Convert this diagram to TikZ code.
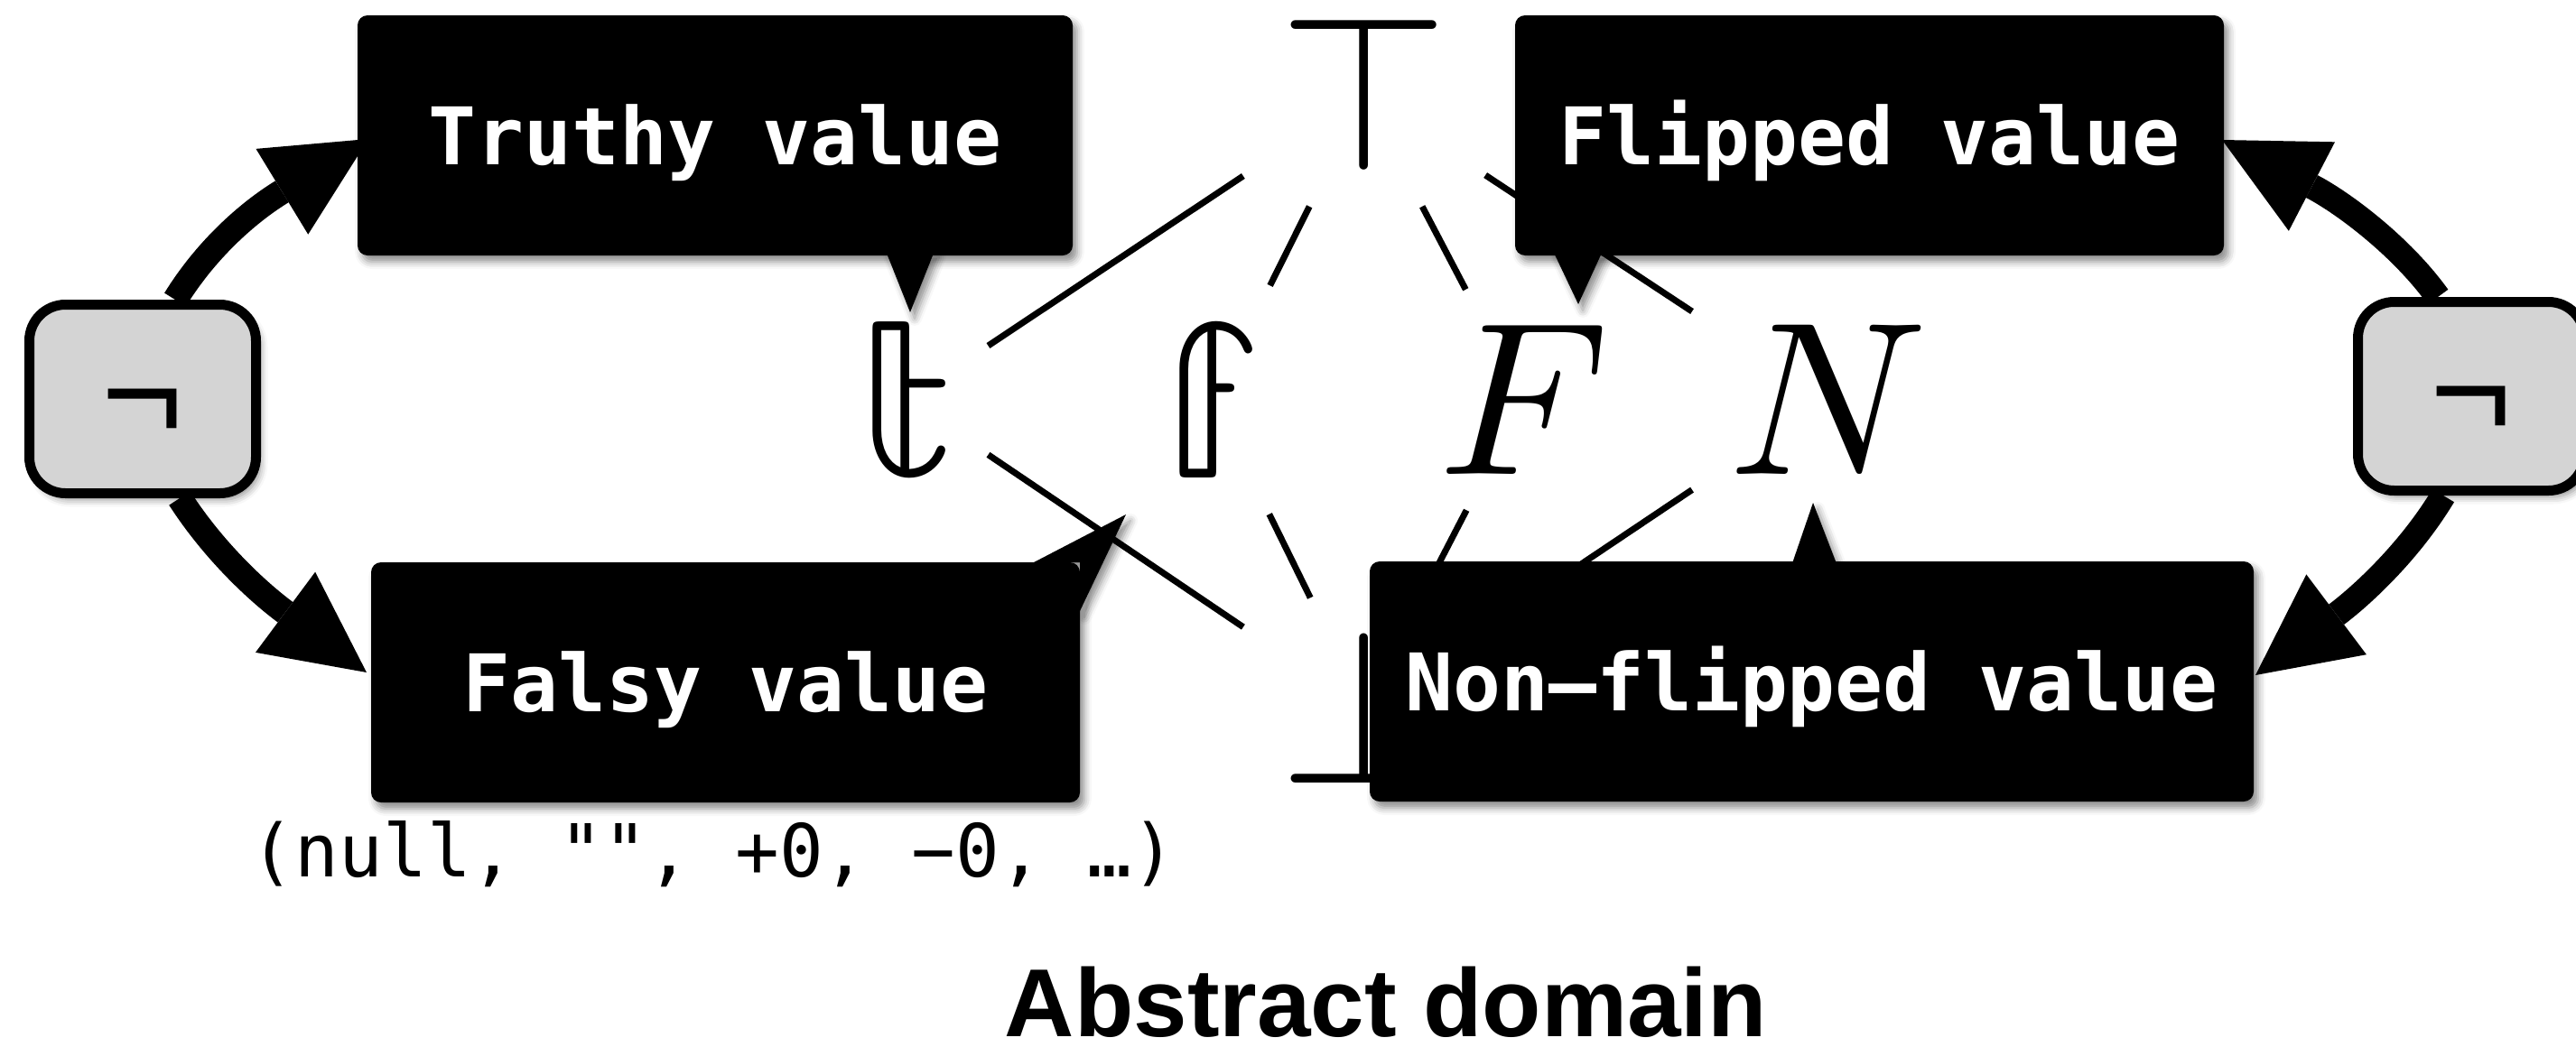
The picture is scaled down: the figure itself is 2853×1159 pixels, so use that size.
\documentclass[tikz,border=0pt]{standalone}
\usepackage{fontspec}
\usepackage{unicode-math}
\setmathfont{Latin Modern Math}
\newfontfamily\monofont{DejaVu Sans Mono}
\newfontfamily\helvfont{Liberation Sans}
\usetikzlibrary{arrows.meta,shadows.blur,calc}
\pgfdeclarelayer{bg}
\pgfsetlayers{bg,main}
\definecolor{neggray}{RGB}{212,212,212}
\tikzset{
  sh/.style={blur shadow={shadow xshift=5pt,shadow yshift=-7pt,shadow blur radius=8pt,shadow opacity=45}},
  glyph/.style={inner sep=40pt, outer sep=0pt, font=\fontsize{242}{250}\selectfont},
  callout/.style={fill=black, text=white, rounded corners=11pt, inner sep=0pt, outer sep=0pt,
    minimum height=266pt, text height=64pt, text depth=0pt,
    font=\monofont\bfseries\fontsize{88}{100}\selectfont, sh},
  pointer/.style={fill=black, sh},
  negbox/.style={draw=black, line width=11pt, fill=neggray, rounded corners=40pt,
    minimum width=251pt, minimum height=209pt, inner sep=0pt, text height=92pt, text depth=0pt,
    font=\helvfont\fontsize{156}{160}\selectfont, sh},
  hasse/.style={line width=7pt},
  fliparrow/.style={draw=black, line width=28pt, -{Triangle[length=112pt, width=111pt, line width=0pt, fill=black]}},
}
\begin{document}
\begin{tikzpicture}[x=1pt,y=-1pt]
\useasboundingbox (0,0) rectangle (2853,1159);
% lattice
\node[glyph] (top) at (1511,106) {$\top$};
\node[glyph] (tt) at (1004,443) {$\mathbb{t}$};
\node[glyph] (ff) at (1344,443) {$\mathbb{f}$};
\node[glyph] (F) at (1687,443) {$F$};
\node[glyph] (N) at (2024,443) {$N$};
\node[glyph] (bot) at (1511,785) {$\bot$};
% negation boxes
\node[negbox] (negL) at (158,442) {¬};
\node[negbox] (negR) at (2737,439) {¬};
% callouts
\node[callout, minimum width=792pt] (truthy) at (792,150) {Truthy value};
\node[callout, minimum width=785pt] (falsy) at (803.5,756) {Falsy value};
\node[callout, minimum width=785pt] (flipped) at (2070.5,150) {Flipped value};
\node[callout, minimum width=979pt] (nonflipped) at (2006.5,755) {Non–flipped value};
\fill[pointer] ($(truthy.south west)+(585,-5)$) -- ($(truthy.south west)+(612,63)$) -- ($(truthy.south west)+(639,-5)$) -- cycle;
\fill[pointer] ($(flipped.south west)+(42,-5)$) -- ($(flipped.south west)+(70,54)$) -- ($(flipped.south west)+(97,-5)$) -- cycle;
\fill[pointer] ($(nonflipped.north west)+(467,5)$) -- ($(nonflipped.north west)+(491,-65)$) -- ($(nonflipped.north west)+(518,5)$) -- cycle;
\fill[pointer] ($(falsy.north east)+(-51,0)$) -- ($(falsy.north east)+(51,-53)$) -- ($(falsy.north east)+(0,54)$) -- (falsy.north east) -- cycle;
% texts
\node[font=\monofont\fontsize{81}{90}\selectfont, anchor=base, inner sep=0pt] (falsyex) at (790,971) {(null, "", +0, −0, …)};
\node[font=\helvfont\bfseries\fontsize{107}{120}\selectfont, anchor=base, inner sep=0pt] (title) at (1535,1148) {Abstract domain};
\begin{pgfonlayer}{bg}
\draw[hasse] (top) -- (tt);
\draw[hasse] (top) -- (ff);
\draw[hasse] (top) -- (F);
\draw[hasse] (top) -- (N);
\draw[hasse] (tt) -- (bot);
\draw[hasse] (ff) -- (bot);
\draw[hasse] (F) -- (bot);
\draw[hasse] (N) -- (bot);
\draw[fliparrow] ([xshift=36pt]negL.north) .. controls +(37,-60) and +(-128,78) .. ([xshift=12pt,yshift=-4pt]truthy.west);
\draw[fliparrow] ([xshift=41pt]negL.south) .. controls +(38,59) and +(-120,-89) .. ([xshift=-5pt,yshift=11pt]falsy.west);
\draw[fliparrow] ([xshift=-37pt]negR.north) .. controls +(-41,-57) and +(133,69) .. ([xshift=-2pt,yshift=-5pt]flipped.east);
\draw[fliparrow] ([xshift=-31pt]negR.south) .. controls +(-36,60) and +(120,-90) .. ([xshift=2pt,yshift=7pt]nonflipped.east);
\end{pgfonlayer}
\end{tikzpicture}
\end{document}
